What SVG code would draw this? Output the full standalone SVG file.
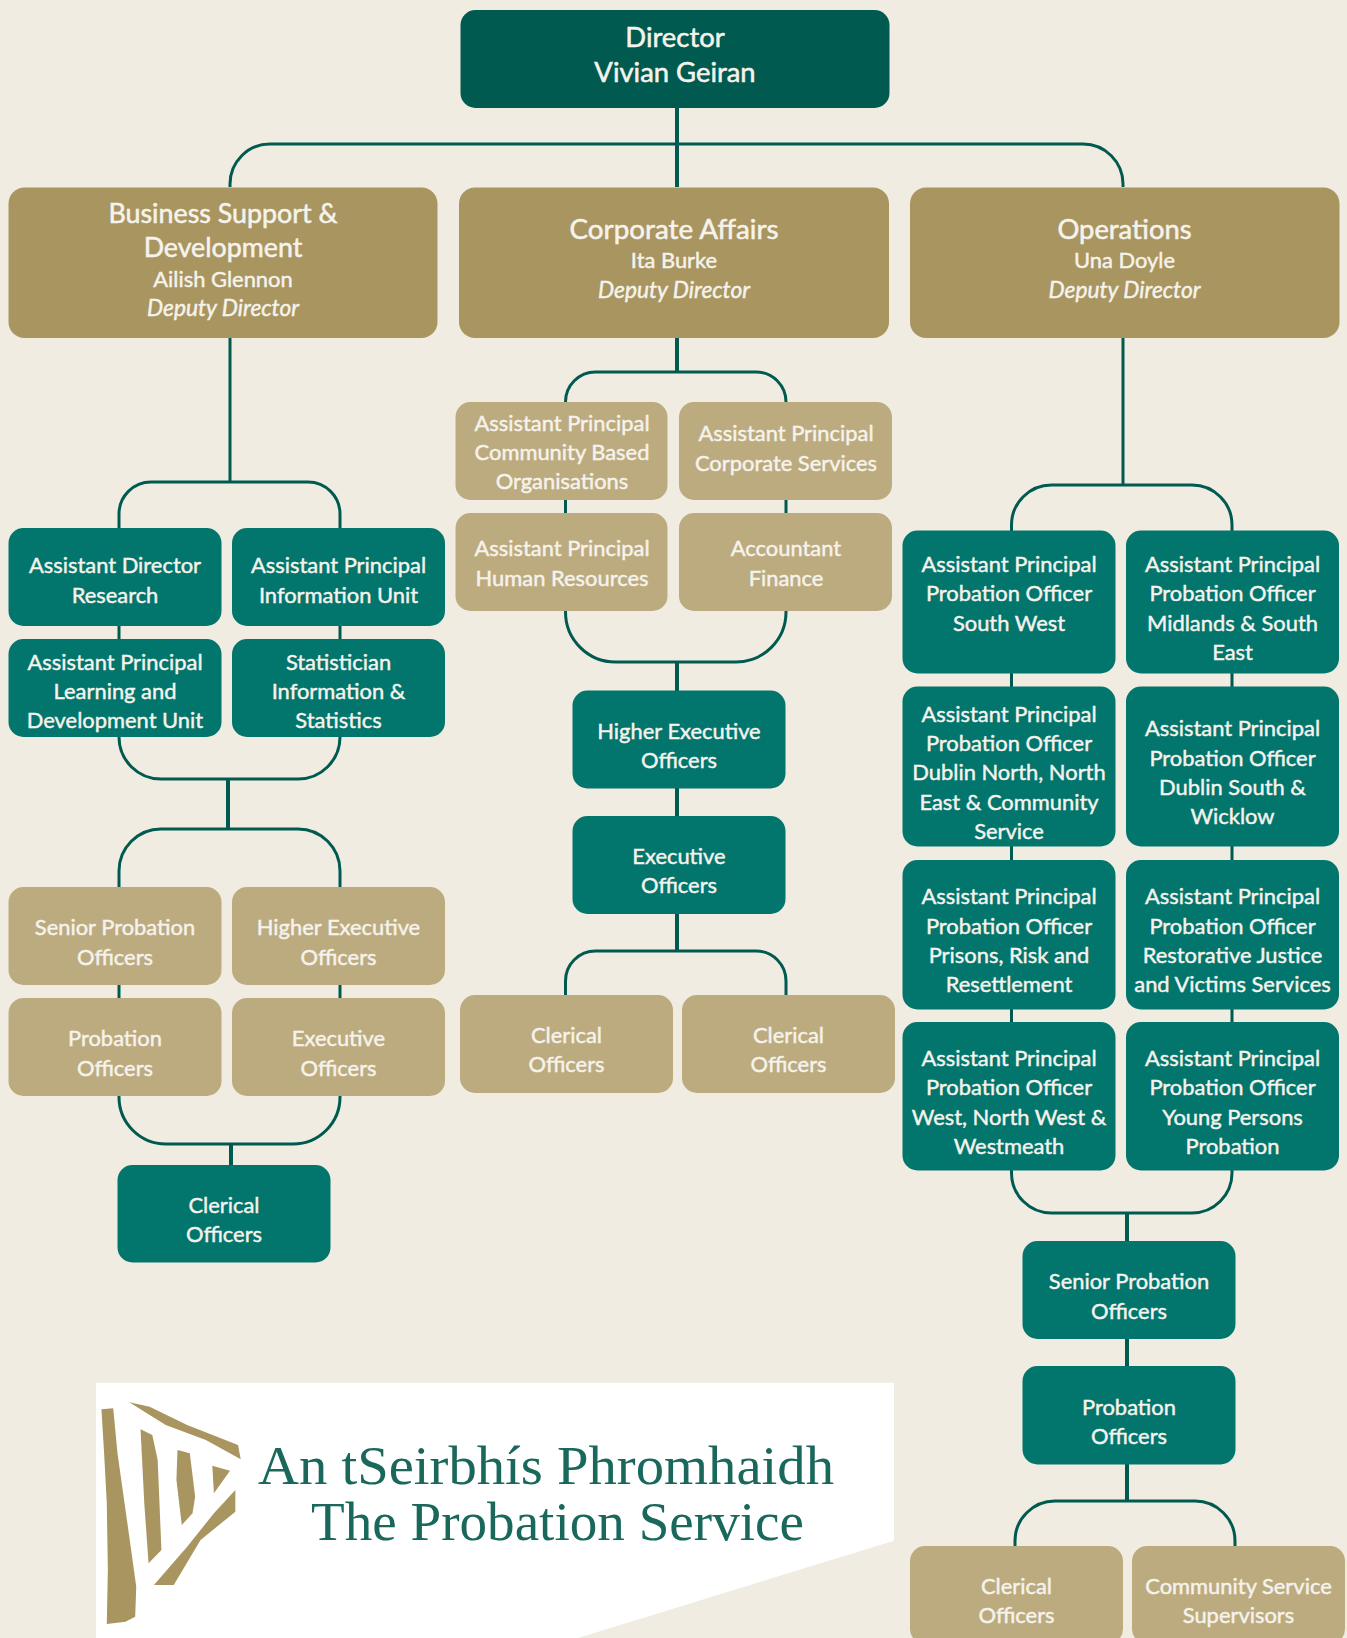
<svg xmlns="http://www.w3.org/2000/svg" width="1347" height="1638" viewBox="0 0 1347 1638">
<style>
text{font-family:Lato,"Carlito","Liberation Sans",sans-serif;fill:#f5f3ec;stroke:#f5f3ec;stroke-width:.45px;text-anchor:middle;font-size:21.900px;font-weight:400}
.big{font-size:27.400px;stroke-width:.55px}
.it{font-style:italic;font-size:22.800px}
.dk{fill:#005a50}.gd{fill:#a99560}.tl{fill:#02756c}.tn{fill:#bdab80}
.c{fill:none;stroke:#005a50;stroke-width:3}
.v{fill:none;stroke:#005a50;stroke-width:4}
.logo{font-family:"Liberation Serif",serif;font-size:55px;font-weight:400;text-anchor:start;fill:#19685b;stroke:none}
.harp{fill:#a99560}
</style>
<rect width="1347" height="1638" fill="#f0ece2"/>
<g id="connectors">
<path class="v" d="M677 108V187"/>
<path class="c" d="M230 187V184a40 40 0 0 1 40-40H1083a40 40 0 0 1 40 40V187"/>
<path class="c" d="M230 338V482"/>
<path class="c" d="M119 528V514a32 32 0 0 1 32-32H308a32 32 0 0 1 32 32V528"/>
<path class="c" d="M119 626V737a42 42 0 0 0 42 42H298a42 42 0 0 0 42-42V626"/>
<path class="v" d="M228 780V829"/>
<path class="c" d="M119 887V871a42 42 0 0 1 42-42H298a42 42 0 0 1 42 42V887"/>
<path class="c" d="M119 985V1097a47 47 0 0 0 47 47H293a47 47 0 0 0 47-47V985"/>
<path class="v" d="M231 1144V1165"/>
<path class="v" d="M677 338V372"/>
<path class="c" d="M565.500 402V402a30 30 0 0 1 30-30H756a30 30 0 0 1 30 30V402"/>
<path class="c" d="M565.500 500V612a50 50 0 0 0 50 50H736a50 50 0 0 0 50-50V500"/>
<path class="v" d="M677 662V691M677 788V816M677 914V951"/>
<path class="c" d="M565.500 995V981a30 30 0 0 1 30-30H756a30 30 0 0 1 30 30V995"/>
<path class="c" d="M1123 338V485"/>
<path class="c" d="M1011.500 531V525a40 40 0 0 1 40-40H1192a40 40 0 0 1 40 40V531"/>
<path class="c" d="M1011.500 673V1173a40 40 0 0 0 40 40H1192a40 40 0 0 0 40-40V673"/>
<path class="v" d="M1127 1213V1241M1127 1339V1366M1127 1464V1501"/>
<path class="c" d="M1015 1546V1541a40 40 0 0 1 40-40H1195a40 40 0 0 1 40 40V1546"/>
</g>
<g id="director"><rect class="dk" x="460.500" y="10" width="429" height="98" rx="15"/><text class="big" x="675" y="47">Director</text><text class="big" x="675" y="82">Vivian Geiran</text></g>
<g id="business-support"><rect class="gd" x="8.500" y="187.500" width="429" height="150.500" rx="16"/><text class="big" x="223" y="223" style="font-size:26.800px">Business Support &amp;</text><text class="big" x="223" y="257" style="font-size:26.800px">Development</text><text x="223" y="287">Ailish Glennon</text><text class="it" x="223" y="316">Deputy Director</text></g>
<g id="corporate-affairs"><rect class="gd" x="459" y="187.500" width="430" height="150.500" rx="16"/><text class="big" x="674" y="239" style="font-size:27.800px">Corporate Affairs</text><text x="674" y="268">Ita Burke</text><text class="it" x="674" y="298">Deputy Director</text></g>
<g id="operations"><rect class="gd" x="910" y="187.500" width="429.500" height="150.500" rx="16"/><text class="big" x="1124.500" y="239">Operations</text><text x="1124.500" y="268">Una Doyle</text><text class="it" x="1124.500" y="298">Deputy Director</text></g>

<g id="bs-ad-research"><rect class="tl" x="8.500" y="528" width="213" height="98" rx="15"/><text x="115" y="573">Assistant Director</text><text x="115" y="603">Research</text></g>
<g id="bs-ap-info"><rect class="tl" x="232" y="528" width="213" height="98" rx="15"/><text x="338.500" y="573">Assistant Principal</text><text x="338.500" y="603">Information Unit</text></g>
<g id="bs-ap-learning"><rect class="tl" x="8.500" y="639" width="213" height="98" rx="15"/><text x="115" y="670">Assistant Principal</text><text x="115" y="699">Learning and</text><text x="115" y="728">Development Unit</text></g>
<g id="bs-statistician"><rect class="tl" x="232" y="639" width="213" height="98" rx="15"/><text x="338.500" y="670">Statistician</text><text x="338.500" y="699">Information &amp;</text><text x="338.500" y="728">Statistics</text></g>
<g id="bs-spo"><rect class="tn" x="8.500" y="887" width="213" height="98" rx="15"/><text x="115" y="935">Senior Probation</text><text x="115" y="965">Officers</text></g>
<g id="bs-heo"><rect class="tn" x="232" y="887" width="213" height="98" rx="15"/><text x="338.500" y="935">Higher Executive</text><text x="338.500" y="965">Officers</text></g>
<g id="bs-po"><rect class="tn" x="8.500" y="998" width="213" height="98" rx="15"/><text x="115" y="1046">Probation</text><text x="115" y="1076">Officers</text></g>
<g id="bs-eo"><rect class="tn" x="232" y="998" width="213" height="98" rx="15"/><text x="338.500" y="1046">Executive</text><text x="338.500" y="1076">Officers</text></g>
<g id="bs-clerical"><rect class="tl" x="117.500" y="1165" width="213" height="97.500" rx="15"/><text x="224" y="1213">Clerical</text><text x="224" y="1242">Officers</text></g>

<g id="ca-cbo"><rect class="tn" x="455.500" y="402" width="212" height="98" rx="15"/><text x="562" y="431">Assistant Principal</text><text x="562" y="460">Community Based</text><text x="562" y="489">Organisations</text></g>
<g id="ca-corporate"><rect class="tn" x="679" y="402" width="213" height="98" rx="15"/><text x="786" y="441">Assistant Principal</text><text x="786" y="471">Corporate Services</text></g>
<g id="ca-hr"><rect class="tn" x="455.500" y="513" width="212" height="98" rx="15"/><text x="562" y="556">Assistant Principal</text><text x="562" y="586">Human Resources</text></g>
<g id="ca-finance"><rect class="tn" x="679" y="513" width="213" height="98" rx="15"/><text x="786" y="556">Accountant</text><text x="786" y="586">Finance</text></g>
<g id="ca-heo"><rect class="tl" x="572.500" y="690.500" width="213" height="98" rx="15"/><text x="679" y="739">Higher Executive</text><text x="679" y="768">Officers</text></g>
<g id="ca-eo"><rect class="tl" x="572.500" y="816" width="213" height="98" rx="15"/><text x="679" y="864">Executive</text><text x="679" y="893">Officers</text></g>
<g id="ca-clerical-1"><rect class="tn" x="460" y="995" width="213" height="98" rx="15"/><text x="566.500" y="1043">Clerical</text><text x="566.500" y="1072">Officers</text></g>
<g id="ca-clerical-2"><rect class="tn" x="682" y="995" width="213" height="98" rx="15"/><text x="788.500" y="1043">Clerical</text><text x="788.500" y="1072">Officers</text></g>

<g id="op-south-west"><rect class="tl" x="902.500" y="530.500" width="213" height="143" rx="15"/><text x="1009" y="572">Assistant Principal</text><text x="1009" y="601">Probation Officer</text><text x="1009" y="631">South West</text></g>
<g id="op-midlands"><rect class="tl" x="1126" y="530.500" width="213" height="143" rx="15"/><text x="1232.500" y="572">Assistant Principal</text><text x="1232.500" y="601">Probation Officer</text><text x="1232.500" y="631">Midlands &amp; South</text><text x="1232.500" y="660">East</text></g>
<g id="op-dublin-north"><rect class="tl" x="902.500" y="686.500" width="213" height="160" rx="15"/><text x="1009" y="722">Assistant Principal</text><text x="1009" y="751">Probation Officer</text><text x="1009" y="780">Dublin North, North</text><text x="1009" y="810">East &amp; Community</text><text x="1009" y="839">Service</text></g>
<g id="op-dublin-south"><rect class="tl" x="1126" y="686.500" width="213" height="160" rx="15"/><text x="1232.500" y="736">Assistant Principal</text><text x="1232.500" y="766">Probation Officer</text><text x="1232.500" y="795">Dublin South &amp;</text><text x="1232.500" y="824">Wicklow</text></g>
<g id="op-prisons"><rect class="tl" x="902.500" y="860" width="213" height="149.500" rx="15"/><text x="1009" y="904">Assistant Principal</text><text x="1009" y="934">Probation Officer</text><text x="1009" y="963">Prisons, Risk and</text><text x="1009" y="992">Resettlement</text></g>
<g id="op-restorative"><rect class="tl" x="1126" y="860" width="213" height="149.500" rx="15"/><text x="1232.500" y="904">Assistant Principal</text><text x="1232.500" y="934">Probation Officer</text><text x="1232.500" y="963">Restorative Justice</text><text x="1232.500" y="992">and Victims Services</text></g>
<g id="op-west"><rect class="tl" x="902.500" y="1022" width="213" height="148.500" rx="15"/><text x="1009" y="1066">Assistant Principal</text><text x="1009" y="1095">Probation Officer</text><text x="1009" y="1125">West, North West &amp;</text><text x="1009" y="1154">Westmeath</text></g>
<g id="op-young"><rect class="tl" x="1126" y="1022" width="213" height="148.500" rx="15"/><text x="1232.500" y="1066">Assistant Principal</text><text x="1232.500" y="1095">Probation Officer</text><text x="1232.500" y="1125">Young Persons</text><text x="1232.500" y="1154">Probation</text></g>
<g id="op-spo"><rect class="tl" x="1022.500" y="1241" width="213" height="98" rx="15"/><text x="1129" y="1289">Senior Probation</text><text x="1129" y="1319">Officers</text></g>
<g id="op-po"><rect class="tl" x="1022.500" y="1366" width="213" height="98.500" rx="15"/><text x="1129" y="1415">Probation</text><text x="1129" y="1444">Officers</text></g>
<g id="op-clerical"><rect class="tn" x="910" y="1546" width="213" height="98" rx="15"/><text x="1016.500" y="1594">Clerical</text><text x="1016.500" y="1623">Officers</text></g>
<g id="op-community"><rect class="tn" x="1132" y="1546" width="213" height="98" rx="15"/><text x="1238.500" y="1594">Community Service</text><text x="1238.500" y="1623">Supervisors</text></g>

<g id="logo">
<polygon points="96,1382.700 894,1382.700 894,1540.700 578,1638 96,1638" fill="#fff"/>
<g transform="translate(80 1370) scale(.5357 .3333)" class="harp">
<polygon points="40,118 62,115 70,250 92,500 105,650 103,740 85,755 50,762 52,600 50,400 45,250"/>
<polygon points="92,97 130,110 200,165 295,225 300,268 235,210 160,165"/>
<polygon points="113,178 135,195 145,270 152,540 128,580 120,400"/>
<polygon points="182,240 205,250 215,380 210,430 190,465 180,330"/>
<polygon points="247,287 280,302 250,370"/>
<polygon points="290,360 290,425 225,510 175,645 138,645 200,530 250,430"/>
</g>
<text class="logo" x="258" y="1484" textLength="576" lengthAdjust="spacingAndGlyphs">An tSeirbhís Phromhaidh</text>
<text class="logo" x="311" y="1540" textLength="493" lengthAdjust="spacingAndGlyphs">The Probation Service</text>
</g>
</svg>
